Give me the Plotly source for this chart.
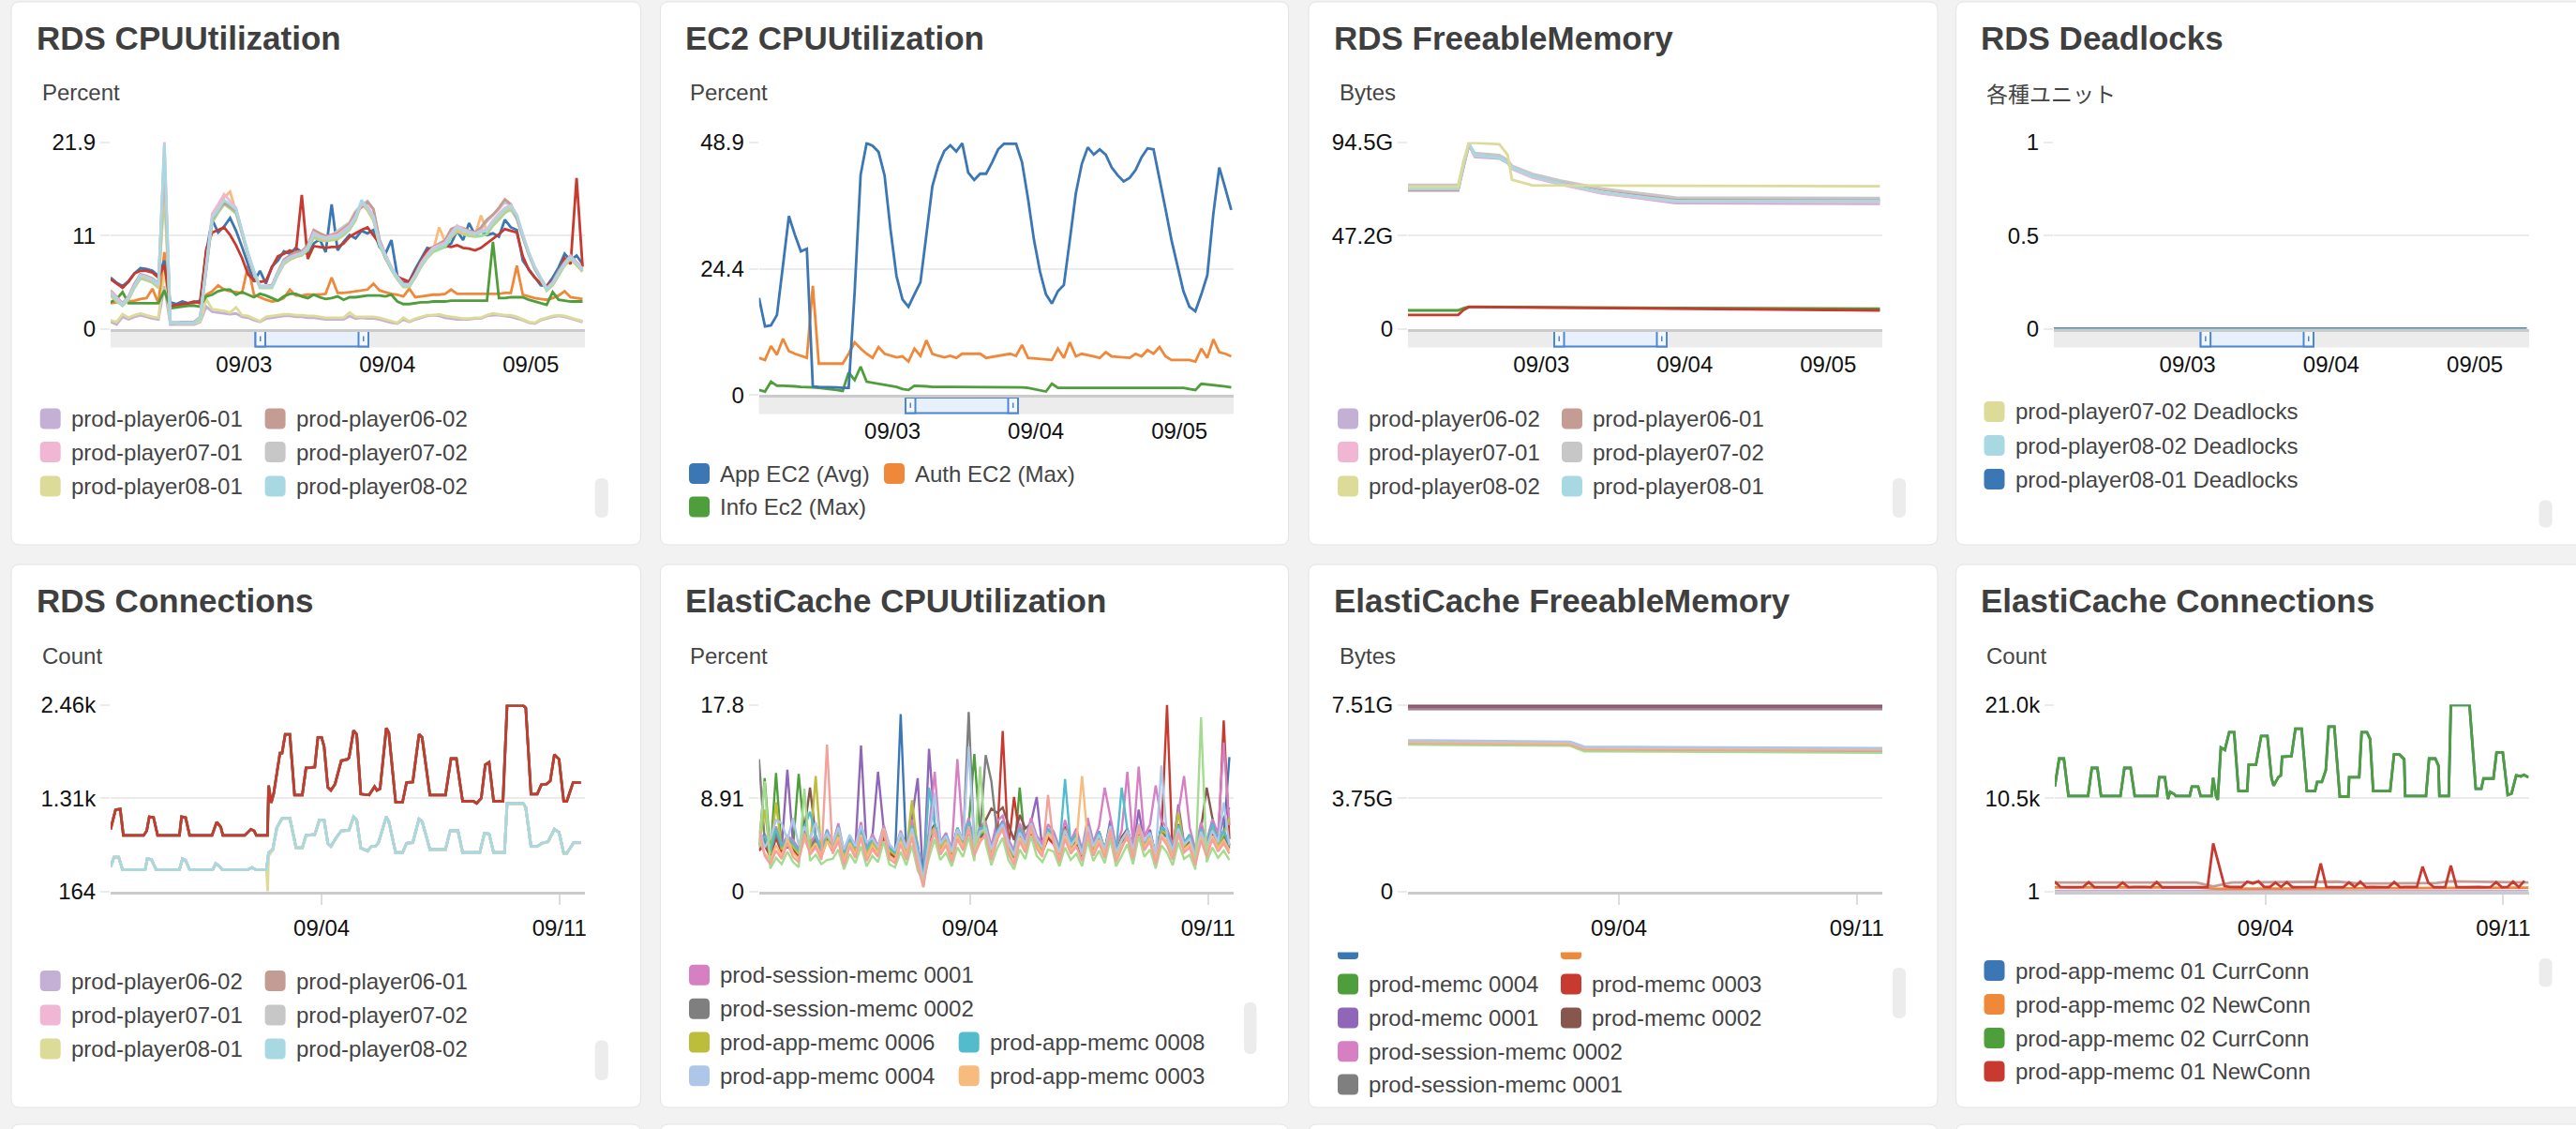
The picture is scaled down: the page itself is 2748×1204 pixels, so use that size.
import pandas as pd
import plotly.graph_objects as go

W, H = 2748, 1204
FONT = "Liberation Sans, Arial, sans-serif"
JP_FONT = "Noto Sans CJK JP, sans-serif"
TITLE_C = "#3f3f3f"
TEXT_C = "#444444"
TICK_C = "#111111"
GRID_C = "#ebebeb"
AXIS_C = "#cbcbcb"

# ---------------- colours ----------------
BLUE = "#3b77b4"; ORANGE = "#f0883a"; GREEN = "#4e9e3c"; RED = "#c8392f"
PURPLE = "#9067b8"; BROWN = "#87574d"; PINK = "#d67fc2"; GRAY = "#7f7f7f"
OLIVE = "#bcbd3a"; CYAN = "#52bccd"; LBLUE = "#aec7e8"; PEACH = "#f7bb7e"
LGREEN = "#a3dc8f"; SALMON = "#f5a19b"; LAV = "#c5b0d5"; LBROWN = "#c49c94"
LPINK = "#f0b6d4"; LGRAY = "#c7c7c7"; LOLIVE = "#dcdc98"; LCYAN = "#a8d9e2"

# ---------------- time axes ----------------
TOP_START = "2023-09-02 01:40"
TOP_SPAN_H = 79.4
BOT_START = "2023-08-28 19:00"
BOT_SPAN_H = 335.0
TOP_TICK_DATES = ["2023-09-03", "2023-09-04", "2023-09-05"]
TOP_TICK_TEXT = ["09/03", "09/04", "09/05"]
BOT_TICK_DATES = ["2023-09-04", "2023-09-11"]
BOT_TICK_TEXT = ["09/04", "09/11"]

# ---------------- Panel 1: RDS CPUUtilization (hourly, %) ----------------
P1_BLUE = [6.0,5.4,5.0,5.6,6.5,7.1,7.0,6.8,6.2,8.0,
           3.1,2.9,3.2,3.0,3.1,3.3,9.0,12.8,11.3,12.0,
           13.0,11.5,9.6,7.6,5.5,6.8,5.3,7.3,8.0,9.1,
           8.8,9.5,9.0,8.8,10.0,10.5,9.0,14.6,9.2,10.2,
           11.0,10.6,11.5,11.2,11.6,9.6,8.8,10.4,6.2,5.4,
           5.6,7.0,8.2,9.5,9.3,9.8,9.6,10.0,11.5,10.4,
           12.4,11.0,11.4,11.0,11.2,10.8,12.8,11.9,11.6,8.0,
           7.0,6.0,5.1,5.0,6.0,7.2,8.8,8.0,8.6,7.6]
P1_RED = [5.8,5.3,4.8,5.5,6.5,6.8,6.8,6.6,6.0,7.5,
          2.7,2.8,2.9,3.0,3.2,3.0,9.3,11.3,11.6,11.9,
          11.0,9.8,8.3,6.4,5.7,5.5,5.6,7.2,8.5,8.8,
          9.2,8.9,15.7,8.2,9.7,9.6,9.5,9.6,9.6,10.0,
          10.8,11.2,11.6,11.9,11.0,10.0,8.3,7.0,6.1,5.8,
          5.5,6.7,8.0,9.2,9.6,9.5,9.7,9.6,9.8,9.5,
          9.4,9.2,9.5,10.0,10.5,11.1,11.7,11.5,11.3,8.5,
          6.9,6.0,5.3,5.0,5.6,6.5,8.3,7.6,17.7,7.3]
P1_ORANGE = [3.0,3.1,3.1,3.2,3.3,3.5,3.6,4.7,3.0,9.0,
             2.6,2.7,2.8,2.8,3.0,3.2,4.0,4.4,5.1,4.6,
             4.4,4.3,4.2,7.4,4.0,3.7,3.4,3.2,3.3,3.6,
             4.6,3.9,3.9,4.0,4.0,4.0,4.1,6.0,4.2,4.2,
             4.3,4.4,4.5,4.6,5.3,4.5,4.3,4.1,4.0,3.8,
             4.7,3.7,3.8,3.9,4.0,4.0,4.1,4.6,4.1,4.1,
             4.1,4.1,4.1,4.1,4.1,4.1,4.2,4.2,7.4,4.0,
             3.8,3.6,3.5,3.4,3.6,3.9,4.4,3.7,3.6,3.5]
P1_GREEN = [3.1,3.5,4.3,3.0,3.0,3.0,3.0,3.0,3.0,4.5,
            2.4,2.5,2.6,2.7,2.7,2.6,3.8,4.0,4.4,4.6,
            4.6,4.0,4.3,4.0,3.7,4.1,3.9,3.6,3.3,3.8,
            4.1,4.1,3.8,3.6,4.0,3.7,3.5,3.6,3.8,3.4,
            3.7,3.7,3.8,3.9,3.9,3.9,3.8,4.0,3.2,2.9,
            2.9,3.0,3.1,3.1,3.2,3.2,3.2,3.3,3.3,3.3,
            3.3,3.3,3.3,3.3,10.2,3.6,3.6,3.7,3.7,3.7,
            3.4,3.2,3.0,2.8,4.3,3.4,3.3,3.2,3.2,3.2]
P1_LCYAN = [4.2,3.4,2.8,3.6,5.0,6.2,6.0,5.7,5.1,21.7,
            0.7,0.7,0.7,0.7,0.7,1.3,7.0,13.0,14.0,15.1,
            14.6,14.0,11.5,8.9,6.8,4.9,4.9,4.9,6.5,7.8,
            8.3,8.6,8.8,9.5,11.1,10.8,10.6,10.7,10.8,11.3,
            11.9,13.0,15.1,14.2,13.0,10.0,8.5,7.1,6.0,5.1,
            5.1,6.2,7.5,8.5,9.3,9.6,9.9,11.0,11.9,11.5,
            11.3,11.1,11.3,11.5,12.5,13.2,14.0,14.4,13.3,11.0,
            8.9,7.2,6.0,4.6,5.3,6.5,7.6,8.4,7.6,6.9]
P1_LBROWN = [4.5,3.7,3.0,3.8,5.3,6.4,6.2,5.9,5.3,20.5,
             0.8,0.8,0.8,0.8,0.8,1.4,7.2,12.8,13.9,14.8,
             14.3,13.8,11.3,8.7,6.6,5.0,5.0,5.1,6.7,8.1,
             8.6,9.0,9.1,9.8,11.6,11.2,10.9,11.0,11.2,11.8,
             12.3,13.6,14.3,14.9,14.0,10.5,8.7,7.2,6.1,5.3,
             5.2,6.4,7.8,8.8,9.6,10.0,10.4,11.7,12.0,11.8,
             11.5,11.3,11.9,12.8,13.4,14.2,15.2,14.6,13.0,10.8,
             8.8,7.1,5.9,4.8,5.5,6.8,7.8,8.6,7.8,7.1]
P1_LPINK = [4.4,3.6,2.9,3.7,5.1,6.3,6.1,5.8,5.2,22.0,
            0.8,0.8,0.7,0.7,0.7,1.4,7.3,13.5,14.6,15.8,
            15.0,14.2,11.4,8.8,6.7,5.0,5.0,5.0,6.6,7.9,
            8.4,8.7,8.9,9.6,11.3,10.9,10.7,10.9,11.0,11.5,
            12.1,13.2,14.6,14.4,13.2,10.2,8.6,7.2,6.1,5.2,
            5.2,6.3,7.7,8.7,9.5,9.8,10.1,11.2,12.1,11.7,
            11.4,11.2,11.5,11.7,12.7,13.5,14.2,14.5,13.4,11.1,
            9.0,7.3,6.0,4.7,5.4,6.6,7.7,8.5,7.7,7.0]
P1_LGRAY = [4.3,3.5,2.9,3.7,5.1,6.2,6.1,5.8,5.2,19.0,
            0.8,0.8,0.8,0.8,0.8,1.3,7.1,12.9,13.8,14.9,
            14.4,13.9,11.4,8.8,6.7,5.0,5.0,5.0,6.6,8.0,
            8.5,8.9,9.0,9.7,11.5,11.0,10.8,11.0,11.5,12.0,
            12.5,13.8,14.5,15.0,14.1,10.4,8.6,7.1,6.0,5.2,
            5.2,6.3,7.7,8.7,9.5,9.9,10.2,11.5,11.9,11.6,
            11.4,11.2,11.7,12.6,13.3,14.0,14.9,14.4,12.9,10.7,
            8.7,7.0,5.8,4.7,5.4,6.7,7.7,8.5,7.7,7.0]
P1_PEACH = [4.0,3.3,2.8,3.5,4.9,6.1,5.9,5.6,5.0,17.5,
            0.8,0.8,0.8,0.8,0.8,1.3,6.9,12.7,14.3,15.4,
            16.1,13.8,11.3,8.7,6.6,4.9,4.9,4.9,6.4,7.7,
            8.2,8.5,8.7,9.4,11.0,10.6,10.4,10.6,10.7,11.2,
            11.8,12.9,14.8,14.0,12.8,9.9,8.4,7.0,5.9,5.0,
            5.0,6.1,7.4,8.4,9.2,11.9,10.2,10.8,11.6,11.2,
            11.2,11.0,13.3,11.4,12.4,13.1,13.9,14.2,13.1,10.9,
            8.8,7.1,5.9,4.5,5.2,6.4,7.5,8.3,7.5,6.8]
P1_LGREEN = [3.9,3.2,2.7,3.4,4.8,5.9,5.7,5.4,4.8,16.0,
             0.7,0.7,0.7,0.7,0.7,1.2,6.8,12.5,13.6,14.6,
             14.1,13.5,11.1,8.6,6.5,4.8,4.8,4.8,6.3,7.6,
             8.1,8.4,8.6,9.2,10.7,10.4,10.3,10.4,10.5,11.0,
             11.6,12.7,14.7,13.9,12.7,9.8,8.3,6.9,5.8,4.9,
             4.9,6.0,7.3,8.3,9.0,9.3,9.6,10.7,11.4,11.1,
             10.9,10.8,10.9,11.1,12.1,12.8,13.6,14.0,12.9,10.7,
             8.7,7.0,5.8,4.5,5.1,6.3,7.4,8.2,7.4,6.7]
P1_LOLIVE = [1.0,0.8,1.7,1.3,1.6,1.8,1.6,1.4,1.3,6.9,
             0.7,0.6,0.6,0.6,0.6,0.9,3.5,2.3,2.2,2.1,
             1.9,2.5,1.6,1.5,1.2,0.9,1.4,1.5,1.6,1.7,
             1.7,1.6,1.6,1.5,1.5,1.4,1.3,1.3,1.3,1.3,
             1.9,1.4,1.4,1.4,1.4,1.3,1.1,0.9,0.7,1.3,
             0.9,1.2,1.4,1.6,1.6,1.7,1.5,1.4,1.3,1.2,
             1.2,1.3,1.3,1.6,1.8,1.7,1.6,1.6,1.4,1.1,
             0.8,0.7,1.1,1.3,1.5,1.6,1.5,1.3,1.1,0.9]
P1_LAV = [0.8,0.5,1.4,1.1,1.4,1.6,1.4,1.2,1.1,5.0,
          0.5,0.5,0.5,0.5,0.5,0.8,2.6,2.0,1.9,1.8,
          1.7,1.8,1.4,1.3,1.0,0.8,1.2,1.3,1.4,1.5,
          1.5,1.4,1.4,1.3,1.3,1.2,1.1,1.1,1.1,1.1,
          1.5,1.2,1.3,1.2,1.2,1.1,0.9,0.7,0.6,1.1,
          0.8,1.1,1.3,1.5,1.6,1.5,1.3,1.2,1.1,1.1,
          1.1,1.2,1.2,1.5,1.6,1.6,1.5,1.4,1.2,1.0,
          0.7,0.6,1.0,1.2,1.4,1.5,1.4,1.2,1.0,0.8]

# ---------------- Panel 2: EC2 CPUUtilization (hourly, %) ----------------
P2_APP = [18.8,13.3,13.5,15.5,25.0,34.6,31.0,27.8,28.3,1.7,
          1.6,1.6,1.5,1.5,1.4,1.4,20.0,42.6,48.7,48.2,
          47.0,42.5,32.0,23.0,18.5,17.1,19.5,21.8,31.0,40.4,
          44.5,47.2,48.3,47.1,48.7,43.0,41.6,42.8,42.8,45.0,
          47.5,48.6,48.6,48.6,45.0,38.0,30.0,23.9,19.5,17.7,
          20.1,21.3,30.0,39.0,44.7,47.9,46.5,47.5,46.5,44.0,
          42.5,41.3,42.0,43.5,46.0,47.7,47.5,42.0,36.0,30.0,
          25.0,20.1,17.1,16.2,19.5,23.2,35.0,44.0,40.0,35.8]
P2_AUTH = [7.2,6.8,9.5,7.8,10.9,8.5,8.0,7.6,7.2,21.1,
           6.1,6.1,6.1,6.1,6.1,8.0,10.2,9.0,8.0,7.2,
           9.3,8.0,7.6,7.3,7.5,6.5,9.0,7.6,10.6,8.0,
           7.6,7.3,7.6,7.2,8.0,8.0,8.0,8.0,7.2,7.4,
           7.6,7.8,8.0,7.6,9.7,7.2,7.1,7.0,6.9,6.8,
           9.0,7.2,10.2,7.5,8.0,7.8,7.5,7.2,8.3,7.5,
           7.4,7.3,7.2,8.0,7.5,8.7,8.0,9.3,7.5,6.8,
           6.8,6.8,6.8,6.5,9.0,7.2,10.8,8.3,8.0,7.5]
P2_INFO = [1.0,0.7,2.6,1.8,1.8,1.8,1.7,1.6,1.6,1.5,
           1.4,1.3,1.2,1.0,0.8,4.4,2.9,5.5,2.6,2.4,
           2.2,2.0,1.8,1.6,1.2,1.0,1.8,1.8,1.7,1.6,
           1.6,1.5,1.5,1.5,1.5,1.5,1.5,1.5,1.5,1.5,
           1.5,1.5,1.5,1.5,1.5,1.4,1.2,1.0,0.7,2.2,
           1.4,1.4,1.4,1.4,1.4,1.4,1.4,1.4,1.4,1.4,
           1.4,1.4,1.4,1.4,1.4,1.4,1.4,1.4,1.4,1.4,
           1.4,1.4,1.2,1.0,2.2,2.1,2.0,1.9,1.7,1.5]

# ---------------- Panel 3: RDS FreeableMemory (GB) ----------------
P3_HOURS = [0, 8.4, 9.3, 10.2, 11.2, 15.3, 16.7, 17.4, 20.8, 25.6, 32.5, 44.8, 79]
P3_LAV = [70.5,70.5,82.0,93.0,87.0,86.2,83.8,81.0,76.8,73.2,68.6,63.6,63.3]
P3_LBROWN = [70.0,70.0,82.0,93.0,88.5,87.5,85.0,82.0,78.0,74.5,70.5,65.5,65.2]
P3_LPINK = [71.0,71.0,83.0,94.0,87.5,86.8,84.0,81.0,76.5,73.0,68.5,64.3,64.0]
P3_LGRAY = [72.9,72.9,84.0,93.5,89.0,88.0,85.5,82.5,78.5,75.0,71.0,66.5,66.2]
P3_LOLIVE = [71.9,71.9,85.0,94.3,94.2,93.4,88.0,75.5,72.6,72.5,72.5,72.4,72.2]
P3_LCYAN = [70.9,70.9,83.0,94.0,87.9,86.5,84.3,81.6,77.2,73.6,69.1,64.7,64.7]
P3_GREEN = [9.3,9.3,10.5,11.1,11.1,11.0,11.0,10.9,10.9,10.8,10.7,10.5,10.2]
P3_RED = [7.0,7.0,9.5,11.0,11.0,10.9,10.9,10.8,10.7,10.6,10.4,10.0,9.3]

# ---------------- Panel 4: RDS Deadlocks ----------------
P4_HOURS = [0, 79]
P4_0702 = [0, 0]
P4_0802 = [0, 0]
P4_0801 = [0, 0]

# ---------------- Panel 5: RDS Connections (hour, count) ----------------
P5_RED = [(0,929),(3.5,1170),(6.8,1177),(9.0,853),(23.3,853),(25.5,910),(27.3,1082),(30.3,1074),
          (33.2,853),(48.6,853),(50.1,1082),(53.0,1071),(55.8,853),(71.6,853),(74.9,1017),(77.8,956),
          (79.3,853),(94.7,853),(99.1,929),(101.3,910),(102.9,853),(110.8,853),(111.6,1465),(113.4,1254),
          (115.2,1369),(117.8,1675),(119.6,1866),(121.1,1866),(123.3,2096),(126.6,2096),(129.9,1350),
          (135.4,1350),(138.0,1683),(141.5,1686),(144.2,1694),(146.4,2057),(149.0,2057),(150.8,1943),
          (153.4,1445),(155.6,1407),(158.5,1484),(162.9,1771),(167.3,1790),(168.4,1809),(171.6,2142),
          (173.8,2096),(176.7,1361),(182.6,1350),(186.4,1453),(188.1,1407),(190.3,1426),(194.7,2172),
          (196.5,2115),(201.3,1262),(206.2,1262),(209.0,1503),(213.4,1510),(217.8,2096),(220.0,2057),
          (225.5,1350),(236.5,1350),(240.4,1797),(244.2,1797),(248.6,1273),(256.3,1273),(258.5,1247),
          (261.8,1312),(264.6,1721),(267.3,1751),(270.5,1273),(277.1,1273),(280.0,2450),(291.4,2450),
          (293.2,2421),(296.9,1361),(301.3,1361),(304.2,1476),(307.9,1484),(310.5,1522),(313.4,1847),
          (316.7,1790),(320.0,1273),(322.2,1273),(326.6,1503),(332.1,1503)]
P5_LCYAN = [(0,470),(2.4,585),(5.7,585),(8.4,432),(24.4,432),(25.9,566),(28.8,558),(32.1,432),
            (48.6,432),(50.8,566),(53.0,547),(55.8,432),(72.1,432),(74.3,508),(77.1,470),(78.7,432),
            (96.9,432),(99.8,459),(102.4,432),(110.1,432),(111.6,642),(114.5,680),(117.4,948),
            (121.1,1063),(126.6,1063),(131.0,700),(135.4,700),(138.0,853),(144.2,864),(147.5,1044),
            (150.8,1044),(153.4,757),(155.6,719),(159.6,833),(162.9,910),(168.4,918),(171.6,1082),
            (173.8,1044),(176.7,700),(181.5,661),(184.2,719),(187.0,719),(189.2,765),(194.7,1082),
            (196.5,1025),(201.3,642),(206.2,642),(209.0,757),(213.4,765),(217.8,1055),(220.0,1025),
            (225.5,680),(236.5,680),(239.8,910),(245.3,910),(248.6,642),(260.7,642),(264.0,879),
            (267.3,872),(270.5,642),(278.2,642),(280.0,1246),(291.4,1246),(293.2,1197),(296.9,719),
            (301.3,719),(304.6,757),(309.0,776),(313.4,929),(316.7,891),(320.0,634),(322.2,634),
            (327.0,765),(332.1,765)]
P5_LOLIVE = [(0,480),(2.4,592),(5.7,590),(8.4,432),(24.4,432),(25.9,560),(28.8,552),(32.1,432),
             (48.6,432),(50.8,560),(53.0,545),(55.8,432),(72.1,432),(74.3,500),(77.1,466),(78.7,432),
             (96.9,432),(99.8,455),(102.4,432),(110.1,432),(110.9,164),(111.6,600),(114.5,675),
             (117.4,940),(121.1,1058),(126.6,1058),(131.0,696),(135.4,696),(138.0,848),(144.2,860),
             (147.5,1040),(150.8,1040),(153.4,752),(155.6,715),(159.6,828),(162.9,905),(168.4,912),
             (171.6,1076),(173.8,1040),(176.7,696),(181.5,657),(184.2,715),(187.0,715),(189.2,760),
             (194.7,1076),(196.5,1020),(201.3,638),(206.2,638),(209.0,752),(213.4,760),(217.8,1050),
             (220.0,1020),(225.5,676),(236.5,676),(239.8,905),(245.3,905),(248.6,638),(260.7,638),
             (264.0,874),(267.3,868),(270.5,638),(278.2,638),(280.0,1240),(291.4,1240),(293.2,1192),
             (296.9,715),(301.3,715),(304.6,752),(309.0,772),(313.4,924),(316.7,886),(320.0,630),
             (322.2,630),(327.0,760),(332.1,760)]

# ---------------- Panel 6: ElastiCache CPUUtilization (4-hourly, %) ----------------
P6_SALMON = [5.8,3.4,2.6,3.9,3.1,4.6,3.3,2.8,5.5,3.5,4.2,3.0,
             14.0,3.6,4.8,2.5,4.3,3.2,5.1,2.9,4.0,3.3,5.8,3.1,
             2.7,4.5,3.0,5.2,2.4,0.4,3.8,6.0,3.5,4.4,2.8,5.0,
             3.9,6.2,3.4,4.7,5.5,3.0,4.9,6.1,3.6,2.5,4.8,3.7,
             6.3,4.1,3.3,9.2,4.5,2.8,5.0,3.6,4.3,2.9,5.7,3.4,
             4.6,3.2,5.9,2.8,4.1,5.4,3.1,6.3,3.9,4.8,2.6,5.2,
             4.4,3.0,5.6,3.7,4.2,2.5,4.9,3.3,5.0,3.8,4.6,3.6]
P6_LGREEN = [4.2,10.5,2.2,3.2,2.6,3.8,2.8,2.3,9.8,2.9,3.5,2.6,
             3.0,3.1,4.0,2.1,3.6,2.7,4.3,2.4,3.4,2.8,4.8,2.6,
             2.3,3.8,2.5,4.4,2.0,1.0,3.2,5.0,3.0,3.7,2.4,4.2,
             3.3,5.2,2.9,11.9,4.6,2.5,4.1,5.1,3.0,2.1,4.0,3.1,
             5.3,3.4,2.8,4.0,3.8,2.4,4.2,3.0,3.6,2.4,4.8,2.9,
             3.9,2.7,5.0,2.4,3.4,4.5,2.6,5.3,3.3,4.0,2.2,4.4,
             3.7,2.5,4.7,3.1,3.5,2.1,16.6,2.8,4.2,3.2,3.9,3.0]
P6_PEACH = [5.0,3.6,3.0,4.4,3.4,5.0,3.7,3.1,5.0,3.8,4.6,3.3,
            4.8,3.9,5.2,2.9,4.6,3.5,5.4,3.3,4.4,3.6,6.0,3.4,
            3.0,4.8,3.4,5.5,2.7,0.5,4.1,5.6,3.8,4.7,3.1,5.3,
            4.2,5.9,3.7,5.0,5.1,3.3,5.2,5.8,3.9,2.8,5.1,4.0,
            5.9,4.4,3.6,5.5,4.8,3.1,5.3,3.9,4.6,11.0,5.0,3.7,
            4.9,3.5,5.6,3.1,4.4,5.1,3.4,6.0,4.2,5.1,2.9,5.5,
            4.7,3.3,5.3,4.0,4.5,2.8,5.2,3.6,5.3,4.1,4.9,3.9]
P6_LBLUE = [6.0,4.2,5.1,6.8,6.5,4.9,7.0,4.4,6.2,5.0,6.6,4.8,
            5.5,4.6,6.1,4.0,5.4,4.3,6.3,4.7,5.1,4.2,6.0,4.5,
            3.9,5.6,4.1,6.0,3.6,1.2,4.8,9.4,4.5,5.3,3.8,5.9,
            4.9,13.8,4.4,5.7,6.0,4.0,5.5,6.4,4.6,3.5,5.6,4.5,
            6.5,5.0,4.2,5.6,5.2,3.7,5.8,4.4,5.1,3.6,6.2,4.3,
            5.4,4.0,6.2,3.7,4.9,5.8,4.0,6.4,4.8,5.6,3.5,12.0,
            5.2,3.9,6.0,4.5,5.0,3.4,5.7,4.2,5.8,4.7,8.5,4.4]
P6_PURPLE = [4.5,5.2,3.8,6.0,4.1,11.6,4.6,3.9,6.2,4.3,5.0,3.7,
             5.6,4.2,6.3,3.5,5.1,4.0,13.9,3.8,5.2,11.4,6.0,4.1,
             3.6,5.5,4.0,7.0,10.8,0.8,13.6,6.4,4.3,5.2,3.7,6.0,
             4.8,6.8,4.2,5.9,6.3,3.9,5.8,6.7,4.4,3.4,6.1,4.6,
             6.6,9.0,4.1,5.8,5.0,3.6,6.2,4.3,5.4,3.5,6.5,4.2,
             5.7,3.9,6.8,3.6,5.1,6.0,3.8,7.8,4.5,5.9,3.4,6.3,
             5.5,3.8,8.3,4.6,5.4,3.3,6.1,4.2,6.0,4.9,7.0,8.0]
P6_PINK = [4.8,5.5,4.0,6.2,4.4,5.3,4.9,4.1,6.0,4.6,5.4,4.0,
           5.9,4.5,6.5,3.8,5.3,4.4,6.6,4.0,5.5,4.3,6.3,4.4,
           3.9,5.8,4.3,6.8,4.5,0.6,5.9,11.4,4.7,5.6,4.0,12.6,
           5.2,7.0,4.6,6.2,6.6,4.3,6.7,7.2,5.0,3.9,6.5,5.0,
           7.0,5.3,4.6,6.4,5.7,4.2,6.8,4.8,6.0,4.0,7.0,4.7,
           6.2,9.9,7.1,4.3,5.8,11.4,4.5,11.9,5.2,6.4,10.1,6.8,
           6.0,4.4,7.5,11.0,6.1,4.0,6.6,4.8,6.9,5.5,14.2,6.3]
P6_GRAY = [12.6,4.8,3.6,5.5,4.0,4.9,4.4,3.7,5.7,4.2,5.0,3.6,
           5.4,4.1,5.9,3.4,4.9,4.0,5.8,3.7,4.9,4.0,5.7,4.0,
           3.5,5.2,3.9,6.0,4.1,0.9,5.3,6.2,4.3,5.1,3.7,5.8,
           4.6,17.1,4.2,5.6,13.0,10.5,5.6,6.5,4.5,3.5,5.9,4.4,
           6.3,4.8,4.1,5.7,5.1,3.8,6.0,4.3,5.3,3.6,6.1,4.2,
           5.5,3.9,6.1,3.6,5.0,5.7,3.9,6.2,4.6,5.4,3.4,5.9,
           5.6,3.8,6.2,4.4,5.2,3.3,5.8,4.1,6.5,4.5,5.6,4.3]
P6_BROWN = [4.4,5.0,3.7,5.8,4.2,5.1,4.5,3.8,5.9,9.9,5.2,3.8,
            5.6,4.2,6.1,3.5,5.0,4.1,6.0,3.8,5.0,4.1,5.9,4.1,
            3.6,5.4,4.0,6.2,4.2,1.0,5.5,6.4,4.4,5.2,3.8,6.0,
            4.7,6.6,4.3,5.8,6.8,7.9,7.5,8.0,6.4,4.9,7.3,6.0,
            6.5,5.0,4.2,5.9,5.3,3.9,6.2,4.4,5.5,3.7,6.3,4.3,
            5.7,4.0,6.3,3.7,5.2,5.9,4.0,6.4,4.7,5.6,3.5,6.1,
            5.8,3.9,6.4,4.5,5.4,3.4,6.0,9.9,7.0,4.6,5.8,4.4]
P6_GREEN = [4.2,10.8,3.5,11.3,3.9,4.7,4.2,11.2,5.5,4.0,4.8,3.5,
            5.3,4.0,5.7,3.3,4.7,3.8,5.6,3.6,4.7,3.8,5.5,3.8,
            3.4,5.0,3.7,5.8,3.9,0.9,5.1,6.0,4.1,4.9,3.6,5.6,
            4.4,6.3,13.1,5.4,5.8,3.7,5.3,6.2,4.3,3.3,9.9,4.2,
            6.1,4.6,3.9,5.5,4.9,3.6,5.8,4.1,5.1,3.4,5.9,4.0,
            5.3,3.7,5.9,3.4,4.8,5.5,3.7,6.0,4.4,5.2,3.2,5.7,
            5.4,3.6,6.0,4.2,5.0,3.1,5.6,3.9,6.2,4.3,5.4,4.1]
P6_BLUE = [4.0,4.6,3.4,5.3,3.8,4.5,4.0,3.4,5.3,3.9,4.6,3.4,
           5.1,3.9,5.5,3.2,4.5,3.7,5.4,3.5,4.5,3.7,5.3,3.7,
           3.3,16.9,3.6,5.6,3.8,0.8,4.9,5.8,4.0,4.7,3.5,5.4,
           4.2,6.0,3.9,5.2,5.6,3.6,5.1,6.0,4.2,3.2,5.4,4.1,
           5.9,4.4,3.8,5.3,4.7,3.5,5.6,4.0,4.9,3.3,5.7,3.9,
           5.1,3.6,5.7,3.3,4.6,5.3,3.6,5.8,4.2,5.0,3.1,5.5,
           5.2,3.5,5.8,4.1,4.8,3.0,5.4,3.8,6.0,4.2,5.2,12.8]
P6_RED = [3.9,4.4,3.3,5.1,3.7,4.3,3.9,3.3,5.1,3.8,4.4,3.3,
          4.9,3.8,5.3,3.1,4.3,3.6,5.2,3.4,4.3,3.6,5.1,3.6,
          3.2,4.7,3.5,5.4,3.7,0.7,4.7,5.6,3.9,4.5,3.4,5.2,
          4.1,5.8,3.8,5.0,5.4,3.5,4.9,15.3,4.1,9.0,5.2,4.0,
          5.7,4.3,3.7,5.1,4.5,3.4,5.4,3.9,4.7,3.2,5.5,3.8,
          4.9,3.5,5.5,3.2,4.4,5.1,3.5,5.6,4.1,4.8,3.0,5.3,
          17.8,3.4,5.6,4.0,4.6,2.9,5.2,3.7,5.8,4.1,16.3,5.0]
P6_OLIVE = [4.3,7.8,3.6,8.5,4.0,4.8,4.3,3.6,5.6,4.1,11.0,3.6,
            5.4,4.1,5.8,3.4,4.8,3.9,5.7,3.7,4.8,3.9,5.6,3.9,
            3.5,5.1,3.8,8.7,4.0,0.9,5.2,6.1,4.2,5.0,3.7,5.7,
            4.5,6.4,4.1,5.5,5.9,3.8,5.4,6.3,4.4,3.4,5.7,4.3,
            6.2,4.7,4.0,5.6,5.0,3.7,5.9,4.2,5.2,3.5,6.0,4.1,
            5.4,3.8,6.0,3.5,4.9,5.6,3.8,6.1,4.5,5.3,3.3,5.8,
            5.5,3.7,7.6,4.3,5.1,3.2,5.7,4.0,6.3,4.4,5.5,7.0]
P6_CYAN = [4.6,5.3,3.9,6.0,4.3,5.2,4.6,3.9,6.1,7.6,5.3,3.9,
           5.8,4.4,6.2,3.7,5.1,4.2,6.0,4.0,5.1,4.2,5.9,4.2,
           3.7,5.5,4.1,6.3,4.3,1.2,9.9,6.5,4.5,5.4,3.9,6.1,
           4.8,6.7,4.4,6.0,6.2,4.0,5.7,6.6,4.6,3.6,6.0,4.5,
           6.5,5.0,4.2,6.0,5.3,3.9,10.7,4.5,5.5,3.7,6.3,4.4,
           5.7,4.0,6.3,3.8,9.9,5.9,4.0,6.4,4.7,5.6,3.5,6.1,
           5.8,3.9,6.3,4.6,5.4,3.4,6.0,4.3,6.5,4.7,5.8,4.5]

# ---------------- Panel 7: ElastiCache FreeableMemory (GB) ----------------
P7_HOURS = [0, 114.6, 124.5, 335]
P7_BROWN = [7.49, 7.49, 7.49, 7.49]
P7_PURPLE = [7.45, 7.45, 7.45, 7.45]
P7_RED = [7.43, 7.43, 7.43, 7.43]
P7_GREEN = [7.41, 7.41, 7.41, 7.41]
P7_PINK = [7.37, 7.37, 7.37, 7.37]
P7_GRAY = [7.33, 7.33, 7.33, 7.33]
P7_LBLUE = [6.08, 6.02, 5.82, 5.76]
P7_PEACH = [6.03, 5.97, 5.78, 5.73]
P7_ORANGE = [6.00, 5.95, 5.76, 5.71]
P7_SALMON = [5.98, 5.92, 5.72, 5.66]
P7_BLUE = [5.95, 5.90, 5.69, 5.63]
P7_LGREEN = [5.91, 5.86, 5.64, 5.58]

# ---------------- Panel 8: ElastiCache Connections ----------------
P8_GREEN = [(0,11788),(3.1,14936),(6.4,14936),(9.7,10739),(23.5,10739),(26.2,13887),(30.1,13887),
            (32.7,10739),(46.4,10739),(49.2,13887),(53.6,13887),(56.5,10739),(72.3,10739),(73.8,12838),
            (77.8,12838),(80.0,10389),(81.5,11194),(84.4,10949),(85.5,10739),(95.4,10739),(96.9,11788),
            (101.3,11788),(103.1,10739),(110.8,10739),(111.9,12768),(114.1,10669),(115.2,10319),
            (117.4,16196),(120.2,15916),(123.3,17910),(126.8,17910),(129.9,11299),(136.0,11299),
            (137.1,14237),(142.2,14237),(145.9,17490),(150.3,17490),(153.2,12768),(154.7,11893),
            (158.0,12838),(159.8,13048),(160.7,15146),(167.3,15216),(170.1,18295),(174.5,18295),
            (178.2,11299),(184.0,11299),(185.5,12313),(188.8,12313),(191.6,13642),(193.6,18539),
            (197.6,18539),(201.5,10669),(207.5,10669),(208.1,12838),(215.2,12838),(216.9,17910),
            (220.7,17910),(222.9,17140),(225.1,11299),(237.1,11299),(239.8,15391),(243.7,15391),
            (247.0,14867),(247.7,10739),(262.4,10739),(264.6,14936),(269.0,14936),(271.2,14167),
            (271.9,10739),(278.5,10739),(280.0,20950),(293.2,20950),(297.6,11543),(301.5,11543),
            (303.1,12697),(310.1,12697),(312.3,15636),(316.7,15636),(320.2,10844),(322.9,11019),
            (326.2,13048),(329.5,12943),(331.6,13118),(334.9,12838)]
P8_RED = [1100,500,480,520,490,510,1050,480,500,470,520,490,
          1000,480,510,470,500,490,1050,470,500,480,490,470,
          480,500,470,490,5400,2950,600,520,480,500,1100,900,
          1150,520,500,1000,520,1050,480,500,520,490,510,3150,
          520,490,500,480,1020,520,1100,480,500,490,510,480,
          1050,480,500,490,510,2800,1000,480,520,490,2900,500,
          480,510,490,500,480,500,1050,480,500,1100,490,1200]
P8_LBROWN_H = [0, 100, 112, 125, 200, 215, 230, 270, 280, 335]
P8_LBROWN = [1000, 1000, 560, 1000, 1100, 900, 900, 950, 1150, 1000]
P8_ORANGE_H = [0, 100, 115, 335]
P8_ORANGE = [450, 450, 300, 430]
P8_LAV_H = [0, 335]
P8_LAV = [60, 60]


# ================= helpers =================
def unzip(pairs):
    return [p[0] for p in pairs], [p[1] for p in pairs]


def steps(vals, step):
    return [i * step for i in range(len(vals))]


def tlist(start, hours):
    t0 = pd.Timestamp(start)
    return [t0 + pd.Timedelta(hours=float(h)) for h in hours]


def fx(px):
    return px / W


def fy(py):
    return 1 - py / H


shapes = []
annotations = []


def rrect(x0, y0, x1, y1, r, fill, line_color=None, line_width=0):
    def P(x, y):
        return f"{fx(x):.6f},{fy(y):.6f}"
    path = (f"M {P(x0 + r, y0)} L {P(x1 - r, y0)} Q {P(x1, y0)} {P(x1, y0 + r)} "
            f"L {P(x1, y1 - r)} Q {P(x1, y1)} {P(x1 - r, y1)} L {P(x0 + r, y1)} "
            f"Q {P(x0, y1)} {P(x0, y1 - r)} L {P(x0, y0 + r)} Q {P(x0, y0)} {P(x0 + r, y0)} Z")
    shapes.append(dict(type="path", xref="paper", yref="paper", path=path, fillcolor=fill,
                       line=dict(color=line_color or fill, width=line_width), layer="below"))


def rect(x0, y0, x1, y1, fill, line_color=None, line_width=0, layer="below"):
    shapes.append(dict(type="rect", xref="paper", yref="paper", x0=fx(x0), x1=fx(x1),
                       y0=fy(y1), y1=fy(y0), fillcolor=fill,
                       line=dict(color=line_color or fill, width=line_width), layer=layer))


def seg(x0, y0, x1, y1, color, width):
    shapes.append(dict(type="line", xref="paper", yref="paper", x0=fx(x0), x1=fx(x1),
                       y0=fy(y0), y1=fy(y1), line=dict(color=color, width=width), layer="above"))


def text(x, y, s, size, color, bold=False, family=FONT, xanchor="left"):
    if bold:
        s = f"<b>{s}</b>"
    annotations.append(dict(x=fx(x), y=fy(y), xref="paper", yref="paper", text=s,
                            showarrow=False, xanchor=xanchor, yanchor="middle",
                            font=dict(family=family, size=size, color=color)))


def grid_legend(names, cols, rows):
    out = []
    for k, n in enumerate(names):
        r, c = divmod(k, len(cols))
        out.append((n, cols[c], rows[r]))
    return out


# ================= panel table =================
P5_RED_H, P5_RED_V = unzip(P5_RED)
P5_LCYAN_H, P5_LCYAN_V = unzip(P5_LCYAN)
P5_LOLIVE_H, P5_LOLIVE_V = unzip(P5_LOLIVE)
P8_GREEN_H, P8_GREEN_V = unzip(P8_GREEN)

PANELS = [
    dict(title="RDS CPUUtilization", unit="Percent", col=0, row=0, box=(118, 624, 151.6, 350.6),
         yr=[0, 21.9], ytv=[0, 10.95, 21.9], ytt=["0", "11", "21.9"], lw=2.8,
         series=[("prod-player06-01", LAV, steps(P1_LAV, 1), P1_LAV),
                 ("prod-player08-01", LOLIVE, steps(P1_LOLIVE, 1), P1_LOLIVE),
                 ("prod-player03-02", ORANGE, steps(P1_ORANGE, 1), P1_ORANGE),
                 ("prod-player04-01", GREEN, steps(P1_GREEN, 1), P1_GREEN),
                 ("prod-player03-01", BLUE, steps(P1_BLUE, 1), P1_BLUE),
                 ("prod-player04-02", RED, steps(P1_RED, 1), P1_RED),
                 ("prod-player05-01", LGREEN, steps(P1_LGREEN, 1), P1_LGREEN),
                 ("prod-player05-02", PEACH, steps(P1_PEACH, 1), P1_PEACH),
                 ("prod-player07-02", LGRAY, steps(P1_LGRAY, 1), P1_LGRAY),
                 ("prod-player06-02", LBROWN, steps(P1_LBROWN, 1), P1_LBROWN),
                 ("prod-player07-01", LPINK, steps(P1_LPINK, 1), P1_LPINK),
                 ("prod-player08-02", LCYAN, steps(P1_LCYAN, 1), P1_LCYAN)],
         legend=grid_legend(["prod-player06-01", "prod-player06-02", "prod-player07-01",
                             "prod-player07-02", "prod-player08-01", "prod-player08-02"],
                            [42.7, 282.6], [446.6, 482, 518.5]),
         nav=(272.5, 393), scroll=(634.7, 648.8, 510, 552)),
    dict(title="EC2 CPUUtilization", unit="Percent", col=1, row=0, box=(809.7, 1316, 151.6, 421.4),
         yr=[0, 48.9], ytv=[0, 24.45, 48.9], ytt=["0", "24.4", "48.9"], lw=2.8,
         series=[("Info Ec2 (Max)", GREEN, steps(P2_INFO, 1), P2_INFO),
                 ("Auth EC2 (Max)", ORANGE, steps(P2_AUTH, 1), P2_AUTH),
                 ("App EC2 (Avg)", BLUE, steps(P2_APP, 1), P2_APP)],
         legend=grid_legend(["App EC2 (Avg)", "Auth EC2 (Max)", "Info Ec2 (Max)"],
                            [735, 943], [505, 540.6]),
         nav=(966, 1086), scroll=None),
    dict(title="RDS FreeableMemory", unit="Bytes", col=2, row=0, box=(1502, 2008, 151.6, 350.6),
         yr=[0, 94.5], ytv=[0, 47.25, 94.5], ytt=["0", "47.2G", "94.5G"], lw=2.8,
         series=[("prod-player06-02", LAV, P3_HOURS, P3_LAV),
                 ("prod-player06-01", LBROWN, P3_HOURS, P3_LBROWN),
                 ("prod-player07-01", LPINK, P3_HOURS, P3_LPINK),
                 ("prod-player07-02", LGRAY, P3_HOURS, P3_LGRAY),
                 ("prod-player08-01", LCYAN, P3_HOURS, P3_LCYAN),
                 ("prod-player08-02", LOLIVE, P3_HOURS, P3_LOLIVE),
                 ("prod-player05-01", GREEN, P3_HOURS, P3_GREEN),
                 ("prod-player05-02", RED, P3_HOURS, P3_RED)],
         legend=grid_legend(["prod-player06-02", "prod-player06-01", "prod-player07-01",
                             "prod-player07-02", "prod-player08-02", "prod-player08-01"],
                            [1427, 1666], [446.6, 482, 518.5]),
         nav=(1658, 1778), scroll=(2019, 2033, 510, 552)),
    dict(title="RDS Deadlocks", unit="各種ユニット", col=3, row=0, box=(2191, 2698, 151.6, 350.6),
         yr=[0, 1], ytv=[0, 0.5, 1], ytt=["0", "0.5", "1"], lw=2.8,
         series=[("prod-player07-02 Deadlocks", LOLIVE, P4_HOURS, P4_0702),
                 ("prod-player08-02 Deadlocks", LCYAN, P4_HOURS, P4_0802),
                 ("prod-player08-01 Deadlocks", BLUE, P4_HOURS, P4_0801)],
         legend=grid_legend(["prod-player07-02 Deadlocks", "prod-player08-02 Deadlocks",
                             "prod-player08-01 Deadlocks"], [2116.5], [439, 475, 511]),
         nav=(2347.6, 2468), scroll=(2708.5, 2722.6, 533.5, 562.5)),
    dict(title="RDS Connections", unit="Count", col=0, row=1, box=(118, 624, 751.5, 950.7),
         yr=[164, 2460], ytv=[164, 1312, 2460], ytt=["164", "1.31k", "2.46k"], lw=2.8,
         series=[("prod-player06-02", LAV, P5_LCYAN_H, P5_LCYAN_V),
                 ("prod-player06-01", LBROWN, P5_LCYAN_H, P5_LCYAN_V),
                 ("prod-player07-01", LPINK, P5_LCYAN_H, P5_LCYAN_V),
                 ("prod-player07-02", LGRAY, P5_LCYAN_H, P5_LCYAN_V),
                 ("prod-player08-01", LOLIVE, P5_LOLIVE_H, P5_LOLIVE_V),
                 ("prod-player08-02", LCYAN, P5_LCYAN_H, P5_LCYAN_V),
                 ("prod-player05-01", BLUE, P5_RED_H, P5_RED_V),
                 ("prod-player05-02", GREEN, P5_RED_H, P5_RED_V),
                 ("prod-player04-02", RED, P5_RED_H, P5_RED_V)],
         legend=grid_legend(["prod-player06-02", "prod-player06-01", "prod-player07-01",
                             "prod-player07-02", "prod-player08-01", "prod-player08-02"],
                            [42.7, 282.6], [1046, 1082.4, 1118.5]),
         nav=None, scroll=(634.7, 648.8, 1109.6, 1152)),
    dict(title="ElastiCache CPUUtilization", unit="Percent", col=1, row=1,
         box=(809.7, 1316, 751.5, 950.7),
         yr=[0, 17.8], ytv=[0, 8.9, 17.8], ytt=["0", "8.91", "17.8"], lw=2.4,
         series=[("prod-memc 0001", BLUE, steps(P6_BLUE, 4), P6_BLUE),
                 ("prod-memc 0002", GREEN, steps(P6_GREEN, 4), P6_GREEN),
                 ("prod-memc 0003", RED, steps(P6_RED, 4), P6_RED),
                 ("prod-memc 0004", PURPLE, steps(P6_PURPLE, 4), P6_PURPLE),
                 ("prod-app-memc 0001", BROWN, steps(P6_BROWN, 4), P6_BROWN),
                 ("prod-session-memc 0001", PINK, steps(P6_PINK, 4), P6_PINK),
                 ("prod-session-memc 0002", GRAY, steps(P6_GRAY, 4), P6_GRAY),
                 ("prod-app-memc 0006", OLIVE, steps(P6_OLIVE, 4), P6_OLIVE),
                 ("prod-app-memc 0008", CYAN, steps(P6_CYAN, 4), P6_CYAN),
                 ("prod-app-memc 0004", LBLUE, steps(P6_LBLUE, 4), P6_LBLUE),
                 ("prod-app-memc 0003", PEACH, steps(P6_PEACH, 4), P6_PEACH),
                 ("prod-app-memc 0005", LGREEN, steps(P6_LGREEN, 4), P6_LGREEN),
                 ("prod-app-memc 0007", SALMON, steps(P6_SALMON, 4), P6_SALMON)],
         legend=[("prod-session-memc 0001", 735, 1039.7), ("prod-session-memc 0002", 735, 1075.8),
                 ("prod-app-memc 0006", 735, 1111.5), ("prod-app-memc 0008", 1022.7, 1111.5),
                 ("prod-app-memc 0004", 735, 1147.2), ("prod-app-memc 0003", 1022.7, 1147.2)],
         nav=None, scroll=(1327, 1340.5, 1068.8, 1124)),
    dict(title="ElastiCache FreeableMemory", unit="Bytes", col=2, row=1,
         box=(1502, 2008, 751.5, 950.7),
         yr=[0, 7.51], ytv=[0, 3.755, 7.51], ytt=["0", "3.75G", "7.51G"], lw=2.6,
         series=[("prod-app-memc 0001", BLUE, P7_HOURS, P7_BLUE),
                 ("prod-app-memc 0002", ORANGE, P7_HOURS, P7_ORANGE),
                 ("prod-app-memc 0005", LGREEN, P7_HOURS, P7_LGREEN),
                 ("prod-app-memc 0007", SALMON, P7_HOURS, P7_SALMON),
                 ("prod-app-memc 0003", PEACH, P7_HOURS, P7_PEACH),
                 ("prod-app-memc 0004", LBLUE, P7_HOURS, P7_LBLUE),
                 ("prod-session-memc 0001", GRAY, P7_HOURS, P7_GRAY),
                 ("prod-session-memc 0002", PINK, P7_HOURS, P7_PINK),
                 ("prod-memc 0004", GREEN, P7_HOURS, P7_GREEN),
                 ("prod-memc 0003", RED, P7_HOURS, P7_RED),
                 ("prod-memc 0001", PURPLE, P7_HOURS, P7_PURPLE),
                 ("prod-memc 0002", BROWN, P7_HOURS, P7_BROWN)],
         legend=[("prod-memc 0004", 1427, 1049.4), ("prod-memc 0003", 1665, 1049.4),
                 ("prod-memc 0001", 1427, 1085.5), ("prod-memc 0002", 1665, 1085.5),
                 ("prod-session-memc 0002", 1427, 1121.2), ("prod-session-memc 0001", 1427, 1156.5)],
         nav=None, scroll=(2019, 2033, 1032, 1086)),
    dict(title="ElastiCache Connections", unit="Count", col=3, row=1,
         box=(2192, 2697.5, 751.5, 950.7),
         yr=[1, 21000], ytv=[1, 10500, 21000], ytt=["1", "10.5k", "21.0k"], lw=2.8,
         series=[("prod-session-memc 01 CurrConn", LAV, P8_LAV_H, P8_LAV),
                 ("prod-app-memc 02 NewConn", ORANGE, P8_ORANGE_H, P8_ORANGE),
                 ("prod-session-memc 02 CurrConn", LBROWN, P8_LBROWN_H, P8_LBROWN),
                 ("prod-app-memc 01 NewConn", RED, steps(P8_RED, 4), P8_RED),
                 ("prod-app-memc 01 CurrConn", BLUE, P8_GREEN_H, P8_GREEN_V),
                 ("prod-app-memc 02 CurrConn", GREEN, P8_GREEN_H, P8_GREEN_V)],
         legend=grid_legend(["prod-app-memc 01 CurrConn", "prod-app-memc 02 NewConn",
                             "prod-app-memc 02 CurrConn", "prod-app-memc 01 NewConn"],
                            [2116.5], [1035, 1071, 1107, 1142.6]),
         nav=None, scroll=(2708.5, 2722.6, 1022, 1052.5)),
]

CARD_X = [(12, 683.5), (704.5, 1374.5), (1396, 2067), (2086.6, 2775)]
CARD_Y = [(2, 581), (602, 1181)]
TITLE_X = [37, 728.7, 1421, 2111]
UNIT_X = [42.7, 734, 1427, 2116.5]

fig = go.Figure()

# cards
for (cy0, cy1) in CARD_Y:
    for (cx0, cx1) in CARD_X:
        rrect(cx0, cy0, cx1, cy1, 9, "#ffffff", "#e4e4e4", 1)
for (cx0, cx1) in CARD_X:
    rrect(cx0, 1199, cx1, 1230, 9, "#ffffff", "#e4e4e4", 1)

for i, p in enumerate(PANELS, start=1):
    top = p["row"] == 0
    start = TOP_START if top else BOT_START
    span = TOP_SPAN_H if top else BOT_SPAN_H
    xa = "x" if i == 1 else f"x{i}"
    ya = "y" if i == 1 else f"y{i}"
    colors = {}
    for name, color, hrs, vals in p["series"]:
        colors[name] = color
        fig.add_trace(go.Scatter(x=tlist(start, hrs), y=vals, name=name, mode="lines",
                                 line=dict(color=color, width=p["lw"]), xaxis=xa, yaxis=ya,
                                 showlegend=False, hoverinfo="skip"))
    L, R, T, B = p["box"]
    t0 = pd.Timestamp(start)
    tick_dates = TOP_TICK_DATES if top else BOT_TICK_DATES
    tick_text = TOP_TICK_TEXT if top else BOT_TICK_TEXT
    xkey = "xaxis" if i == 1 else f"xaxis{i}"
    ykey = "yaxis" if i == 1 else f"yaxis{i}"
    fig.update_layout(**{
        xkey: dict(domain=[fx(L), fx(R)], anchor=ya, type="date", automargin=False,
                   range=[t0, t0 + pd.Timedelta(hours=span)],
                   tickvals=[pd.Timestamp(d) for d in tick_dates], ticktext=tick_text,
                   ticks="outside", ticklen=11, tickwidth=2,
                   tickcolor=("rgba(0,0,0,0)" if top else "#dddddd"),
                   showgrid=False, zeroline=False, showline=True, linecolor=AXIS_C, linewidth=3,
                   tickfont=dict(family=FONT, size=24, color=TICK_C), ticklabelstandoff=4,
                   fixedrange=True),
        ykey: dict(domain=[fy(B), fy(T)], anchor=xa, range=p["yr"], tickvals=p["ytv"],
                   automargin=False,
                   ticktext=p["ytt"], ticks="outside", ticklen=10, tickwidth=2, tickcolor=GRID_C,
                   showgrid=True, gridcolor=GRID_C, gridwidth=2, zeroline=False, showline=False,
                   tickfont=dict(family=FONT, size=24, color=TICK_C), ticklabelstandoff=0,
                   fixedrange=True),
    })

    # title + unit
    ty = 40.2 if top else 640.2
    uy = 99 if top else 699
    text(TITLE_X[p["col"]], ty, p["title"], 35, TITLE_C, bold=True)
    ufam = JP_FONT if p["unit"] == "各種ユニット" else FONT
    text(UNIT_X[p["col"]], uy, p["unit"], 23 if ufam == JP_FONT else 24, TEXT_C, family=ufam)

    # navigator (range selector strip)
    if p["nav"]:
        s0, s1 = p["nav"]
        rect(L, B + 1.5, R, B + 20, "#ececec")
        rect(s0, B + 2.5, s1, B + 19, "#e8f1fb", "#4d87d4", 2)
        for hx in (s0, s1 - 10.5):
            rect(hx, B + 2.5, hx + 10.5, B + 19, "#f4f8fd", "#4d87d4", 2)
            seg(hx + 5.25, B + 8, hx + 5.25, B + 13.5, "#4d87d4", 1.5)

    # legend
    for name, sx, cy in p["legend"]:
        rrect(sx, cy - 11, sx + 22, cy + 11, 5, colors[name])
        text(sx + 31.3, cy, name, 24, TEXT_C)

    # scrollbar thumb
    if p["scroll"]:
        x0, x1, y0, y1 = p["scroll"]
        rrect(x0, y0, x1, y1, 6.5, "#ececec")

# partially scrolled-off legend row (ElastiCache FreeableMemory)
rrect(1427, 1012, 1449, 1023, 4, BLUE)
rrect(1665, 1012, 1687, 1023, 4, ORANGE)
rect(1420, 1000, 2010, 1015.5, "#ffffff")

fig.update_layout(width=W, height=H,
                  margin=dict(l=0, r=0, t=0, b=0, pad=0, autoexpand=False),
                  paper_bgcolor="#f2f2f2", plot_bgcolor="rgba(0,0,0,0)",
                  showlegend=False, shapes=shapes, annotations=annotations,
                  font=dict(family=FONT))

fig.write_html("out.html", config={"displayModeBar": False, "staticPlot": True},
               post_script="document.body.style.margin='0';document.body.style.overflow='hidden';")
